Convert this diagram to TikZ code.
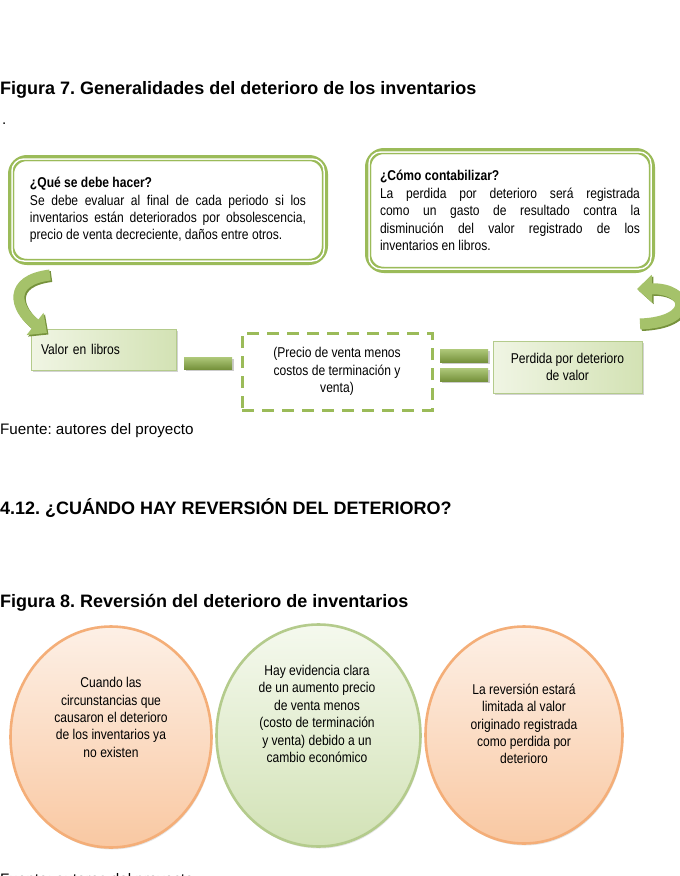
\documentclass[tikz,border=0pt]{standalone}
\usepackage{fontspec}
\setmainfont{Liberation Sans}
\newfontfamily\narrowfont[FakeStretch=0.85]{Liberation Sans}
\usetikzlibrary{shapes.geometric,arrows.meta,shadows}
\frenchspacing
\definecolor{ogreen}{HTML}{9BBB59}
\definecolor{dgreen}{HTML}{76923C}
\definecolor{lgreen}{HTML}{D3E2B4}
\definecolor{pgreen}{HTML}{F0F5E4}
\definecolor{orangeB}{HTML}{F4AE78}
\definecolor{peachT}{HTML}{FDF0E6}
\definecolor{peachB}{HTML}{F9C8A2}
\definecolor{greenB}{HTML}{B4CB8C}
\definecolor{greenT}{HTML}{F5F9EE}
\definecolor{greenBot}{HTML}{D2E2B6}
\begin{document}
\begin{tikzpicture}[x=1pt,y=-1pt,
  pagetext/.style={anchor=base west,inner sep=0pt,font=\fontsize{15.2}{18}\selectfont},
  pagetitle/.style={pagetext,font=\fontsize{18}{21}\selectfont\bfseries},
  dtext/.style={font=\narrowfont\fontsize{14.2}{17.4}\selectfont},
  topbox/.style={draw=ogreen,line width=6pt,fill=white,rounded corners=16pt,
    dtext,align=justify,inner sep=0pt},
  valbox/.style={draw=greenB,line width=0.6pt,left color=pgreen,right color=lgreen,
    drop shadow={shadow xshift=2pt,shadow yshift=-2pt,opacity=0.35},dtext},
  barbox/.style={draw=none,top color=ogreen!80!white,bottom color=dgreen,
    drop shadow={shadow xshift=1.5pt,shadow yshift=-1.5pt,opacity=0.4},
    minimum width=48pt,inner sep=0pt},
  dashbox/.style={draw=ogreen,line width=3pt,dash pattern=on 12pt off 8pt,
    minimum width=190pt,minimum height=77pt,dtext,align=center},
  bigarrow/.style={line width=11pt,ogreen!90!white,-{Triangle[width=27pt,length=15pt]}},
  arrowshade/.style={line width=11pt,dgreen,-{Triangle[width=27pt,length=15pt]}},
  orangecirc/.style={ellipse,draw=orangeB,line width=2.6pt,top color=peachT,bottom color=peachB,
    drop shadow={shadow xshift=1pt,shadow yshift=-2pt,opacity=0.2}},
  greencirc/.style={ellipse,draw=greenB,line width=2.6pt,top color=greenT,bottom color=greenBot,
    drop shadow={shadow xshift=1pt,shadow yshift=-2pt,opacity=0.2}},
  circtext/.style={dtext,align=center,inner sep=0pt}
]
\useasboundingbox (0,0) rectangle (680,876);
\clip (0,0) rectangle (680,876);

% page texts
\node[pagetitle] (t7) at (0,94) {Figura 7. Generalidades del deterioro de los inventarios};
\node[pagetext] (dot) at (2,124) {.};
\node[pagetext] (f7) at (0,434) {Fuente: autores del proyecto};
\node[pagetitle] (h412) at (0,514) {4.12. ¿CUÁNDO HAY REVERSIÓN DEL DETERIORO?};
\node[pagetitle] (t8) at (0,607) {Figura 8. Reversión del deterioro de inventarios};
\node[pagetext] (f8) at (0,884) {Fuente: autores del proyecto};

% top boxes
\node[topbox,minimum width=314pt,minimum height=104pt,text width=276pt] (q) at (168,210)
  {\textbf{¿Qué se debe hacer?}\\
   Se debe evaluar al final de cada periodo si los\linebreak
   inventarios están deteriorados por obsolescencia,\linebreak
   precio de venta decreciente, daños entre otros.};
\draw[white,line width=1.5pt,rounded corners=12pt]
  ([shift={(4,4)}]q.north west) rectangle ([shift={(-4,-4)}]q.south east);
\draw[ogreen,line width=1.2pt,rounded corners=11pt]
  ([shift={(5.5,5.5)}]q.north west) rectangle ([shift={(-5.5,-5.5)}]q.south east);

\node[topbox,minimum width=284pt,minimum height=119pt,text width=260pt] (c) at (510,210.5)
  {\textbf{¿Cómo contabilizar?}\\
   La perdida por deterioro será registrada\linebreak
   como un gasto de resultado contra la\linebreak
   disminución del valor registrado de los\linebreak
   inventarios en libros.};
\draw[white,line width=1.5pt,rounded corners=12pt]
  ([shift={(4,4)}]c.north west) rectangle ([shift={(-4,-4)}]c.south east);
\draw[ogreen,line width=1.2pt,rounded corners=11pt]
  ([shift={(5.5,5.5)}]c.north west) rectangle ([shift={(-5.5,-5.5)}]c.south east);

% middle row
\node[valbox,minimum width=145pt,minimum height=41pt,text width=125pt,inner xsep=10pt,align=left] (v) at (103.5,349.5) {Valor en libros};
\node[barbox,minimum height=12pt] (minus) at (208,363) {};
\node[dashbox] (d) at (337,371.5) {(Precio de venta menos\\costos de terminación y\\venta)};
\node[barbox,minimum height=13pt] (eq1) at (464,355.5) {};
\node[barbox,minimum height=13pt] (eq2) at (464,374.5) {};
\node[valbox,minimum width=149pt,minimum height=52pt,align=center] (p) at (567.5,367) {Perdida por deterioro\\de valor};

% curved arrows
\coordinate (la1) at (50,275);
\coordinate (la2) at (47,333);
\coordinate (ra1) at (640,324);
\coordinate (ra2) at (637,289);
\draw[arrowshade] ([shift={(1.5,1.5)}]la1) .. controls (9.5,281.5) and (15.5,309.5) .. ([shift={(1.5,1.5)}]la2);
\draw[bigarrow] (la1) .. controls (8,280) and (14,308) .. (la2);
\draw[arrowshade] ([shift={(1.5,1.5)}]ra1) .. controls (696.5,323.5) and (691.5,289.5) .. ([shift={(1.5,1.5)}]ra2);
\draw[bigarrow] (ra1) .. controls (695,322) and (690,288) .. (ra2);

% figure 8 circles
\node[orangecirc,minimum width=201pt,minimum height=221pt] (e1) at (111,737) {};
\node[orangecirc,minimum width=197pt,minimum height=217pt] (e3) at (524,735) {};
\node[greencirc,minimum width=204pt,minimum height=222pt] (e2) at (318.5,735.5) {};
\node[circtext] (x1) at (111,717.5) {Cuando las\\circunstancias que\\causaron el deterioro\\de los inventarios ya\\no existen};
\node[circtext] (x2) at (317,714) {Hay evidencia clara\\de un aumento precio\\de venta menos\\(costo de terminación\\y venta) debido a un\\cambio económico};
\node[circtext] (x3) at (524,724) {La reversión estará\\limitada al valor\\originado registrada\\como perdida por\\deterioro};
\end{tikzpicture}
\end{document}
